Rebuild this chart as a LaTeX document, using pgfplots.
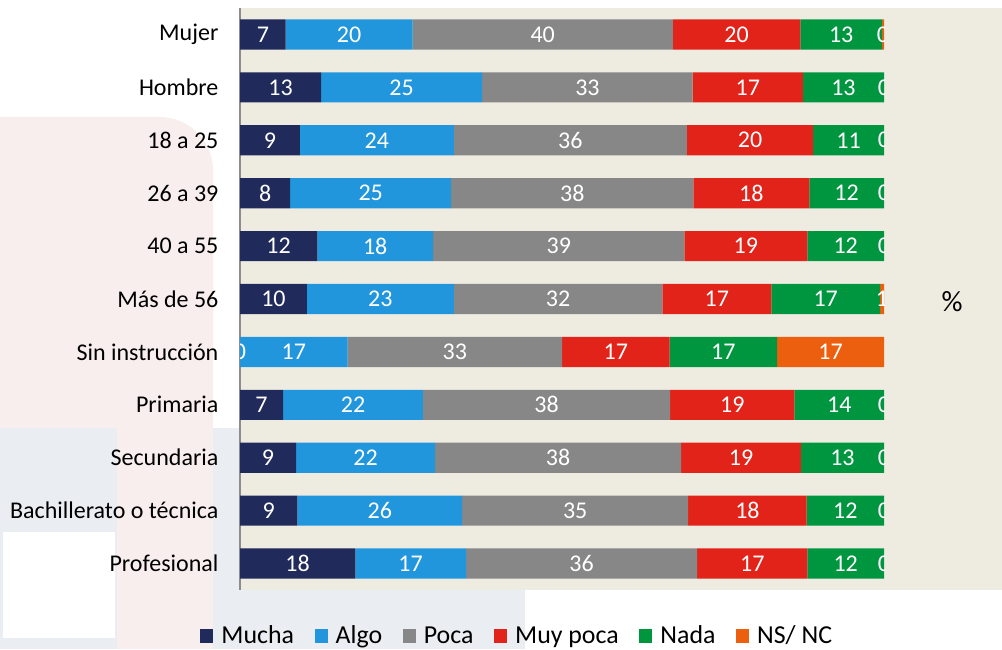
\documentclass[border=0pt]{standalone}
\usepackage{pgfplots}
\usepackage{pgfplotstable}
\pgfplotsset{compat=1.18}
\usepackage{fontspec}
\setmainfont{Carlito}

\definecolor{cbeige}{HTML}{EEECE1}
\definecolor{cmucha}{HTML}{202A5B}
\definecolor{calgo}{HTML}{2196DD}
\definecolor{cpoca}{HTML}{878787}
\definecolor{cmuypoca}{HTML}{E2231A}
\definecolor{cnada}{HTML}{009640}
\definecolor{cnsnc}{HTML}{EB5F0F}
\definecolor{cpink}{HTML}{F9EEEE}
\definecolor{cblue}{HTML}{EAEEF2}
\definecolor{caxis}{HTML}{8C8C8C}

\pgfplotstableread{
idx mucha algo poca muypoca nada nsnc
0 7.1 19.7 40.4 19.8 12.7 0.3
1 12.6 25.0 32.7 17.1 12.6 0
2 9.3 23.9 36.2 19.6 11.0 0
3 7.8 25.0 37.6 18.0 11.6 0
4 12.0 18.0 39.0 19.1 11.9 0
5 10.4 22.8 32.4 16.9 16.9 0.6
6 0 16.7 33.3 16.7 16.7 16.6
7 6.7 21.7 38.4 19.3 13.9 0
8 8.7 21.6 38.2 18.6 12.9 0
9 8.9 25.6 35.1 18.4 12.0 0
10 17.9 17.2 35.9 17.1 11.9 0
}\data

\pgfplotstablecreatecol[expr={\thisrow{mucha}/2}]{c1}{\data}
\pgfplotstablecreatecol[expr={\thisrow{mucha}+\thisrow{algo}/2}]{c2}{\data}
\pgfplotstablecreatecol[expr={\thisrow{mucha}+\thisrow{algo}+\thisrow{poca}/2}]{c3}{\data}
\pgfplotstablecreatecol[expr={\thisrow{mucha}+\thisrow{algo}+\thisrow{poca}+\thisrow{muypoca}/2}]{c4}{\data}
\pgfplotstablecreatecol[expr={\thisrow{mucha}+\thisrow{algo}+\thisrow{poca}+\thisrow{muypoca}+\thisrow{nada}/2}]{c5}{\data}
\pgfplotstablecreatecol[expr={\thisrow{mucha}+\thisrow{algo}+\thisrow{poca}+\thisrow{muypoca}+\thisrow{nada}+\thisrow{nsnc}/2}]{c6}{\data}

\newcommand{\chartfont}{\fontsize{18}{21}\selectfont}
\newcommand{\legfont}{\fontsize{19.4}{22}\selectfont}

\pgfplotsset{
  common/.style={
    at={(180pt,-442.5pt)}, anchor=south west,
    scale only axis, width=483pt, height=436.5pt,
    xmin=0, xmax=100, ymin=-0.5, ymax=10.5, y dir=reverse,
  },
  lbl/.style={
    draw=none, mark=none, forget plot,
    nodes near coords={\pgfmathprintnumber[fixed,precision=0,assume math mode=true]{\pgfplotspointmeta}},
    point meta=explicit,
    every node near coord/.append style={white, anchor=center, font=\chartfont, inner sep=0pt},
  },
}

\begin{document}
\begin{tikzpicture}[x=0.75pt,y=-0.75pt]
\path[use as bounding box, fill=white] (0,0) rectangle (1002,649);
% faint background shapes
\fill[cpink, rounded corners=40] (-60,117) rectangle (213,400);
\fill[cpink] (0,250) rectangle (213,649);
\fill[cblue] (0,428) rectangle (117,649);
\fill[cblue] (213,428) rectangle (525,649);
\fill[white] (3,532) rectangle (115,638);
% plot area
\fill[cbeige] (240,8) rectangle (1002,590);

\begin{axis}[common,
  xbar stacked, bar width=0.57,
  axis x line=none, axis y line*=left,
  y axis line style={-, draw=caxis, line width=1.1pt},
  ytick={0,...,10},
  yticklabels={Mujer,Hombre,18 a 25,26 a 39,40 a 55,Más de 56,Sin instrucción,Primaria,Secundaria,Bachillerato o técnica,Profesional},
  ytick style={draw=none},
  yticklabel style={font=\chartfont, inner sep=0pt, xshift=-16pt},
  legend image code/.code={\fill[#1] (0pt,-4.9pt) rectangle (9.75pt,4.9pt);},
  legend style={at={(0.431,-0.079)}, anchor=center, draw=none, fill=none,
    font=\legfont, legend columns=-1,
    /tikz/every odd column/.append style={column sep=4pt},
    /tikz/every even column/.append style={column sep=13.5pt}},
]
\addplot[fill=cmucha, draw=none] table[x=mucha,y=idx]{\data};
\addlegendentry{Mucha}
\addplot[fill=calgo, draw=none] table[x=algo,y=idx]{\data};
\addlegendentry{Algo}
\addplot[fill=cpoca, draw=none] table[x=poca,y=idx]{\data};
\addlegendentry{Poca}
\addplot[fill=cmuypoca, draw=none] table[x=muypoca,y=idx]{\data};
\addlegendentry{Muy poca}
\addplot[fill=cnada, draw=none] table[x=nada,y=idx]{\data};
\addlegendentry{Nada}
\addplot[fill=cnsnc, draw=none] table[x=nsnc,y=idx]{\data};
\addlegendentry{NS/ NC}
\end{axis}

\begin{scope}
\clip (240,8) rectangle (884,590);
\begin{axis}[common, hide axis]
\addplot[lbl] table[x=c1,y=idx,meta=mucha]{\data};
\addplot[lbl] table[x=c2,y=idx,meta=algo]{\data};
\addplot[lbl] table[x=c3,y=idx,meta=poca]{\data};
\addplot[lbl] table[x=c4,y=idx,meta=muypoca]{\data};
\addplot[lbl] table[x=c5,y=idx,meta=nada]{\data};
\addplot[lbl] table[x=c6,y=idx,meta=nsnc]{\data};
\end{axis}
\end{scope}

\node[font=\fontsize{22}{24}\selectfont] at (952,302) {\%};
\end{tikzpicture}
\end{document}
